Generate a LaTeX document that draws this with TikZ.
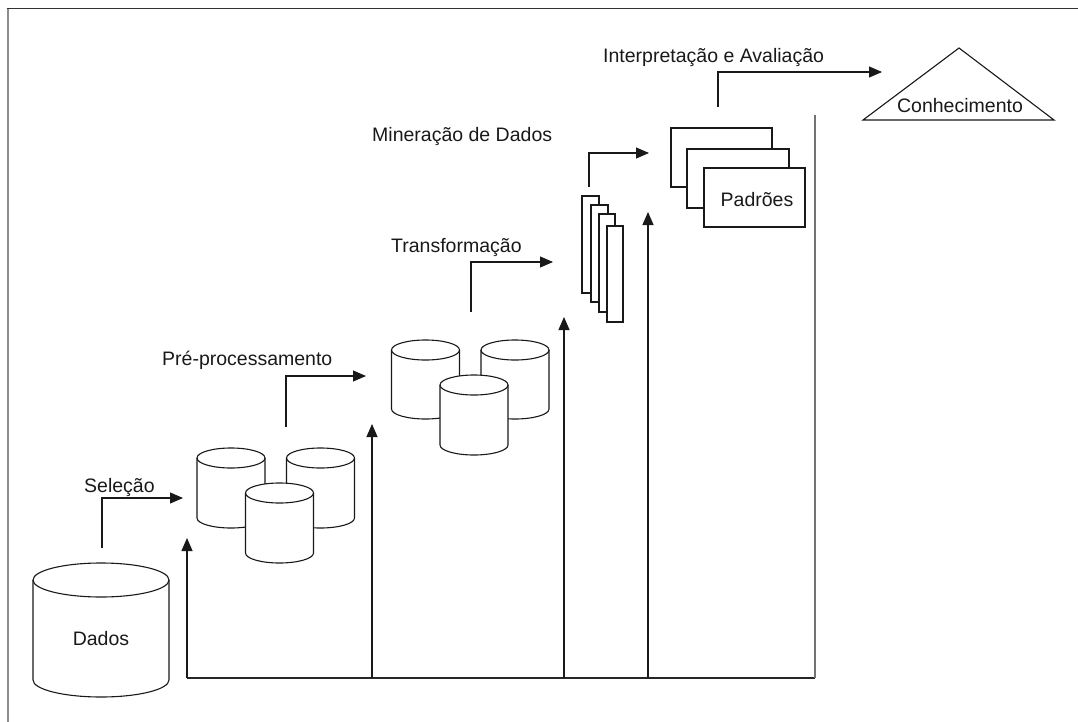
\documentclass[tikz,border=0pt]{standalone}
\usepackage{fontspec}
\setmainfont{Liberation Sans}
\usetikzlibrary{arrows.meta}

% cylinder: centre x, rim y, bottom y, x radius, y radius
\newcommand\drum[5]{%
  \filldraw[shape line,fill=white] (#1-#4,#2) -- (#1-#4,#3)
    arc[start angle=180,end angle=360,x radius=#4,y radius=#5]
    -- (#1+#4,#2)
    arc[start angle=0,end angle=180,x radius=#4,y radius=#5] -- cycle;
  \draw[shape line] (#1-#4,#2)
    arc[start angle=180,end angle=360,x radius=#4,y radius=#5];}

\begin{document}
\begin{tikzpicture}[x=1pt,y=1pt,
  shape line/.style={draw=black!90,line width=1.1pt},
  flow/.style={draw=black!90,line width=1.1pt,-{Triangle[length=13pt,width=11pt]}},
  label text/.style={font=\fontsize{19.5}{23}\selectfont,inner sep=0pt,text=black!90},
  sheet/.style={shape line,fill=white}]
\useasboundingbox (0,0) rectangle (1078,-722);

% page frame
\draw[black!80,line width=1pt] (7,-9) -- (1078,-9);
\draw[black!45,line width=1.8pt] (8,-9) -- (8,-722);

% raw data store
\drum{101}{-580}{-680}{68}{17}
\node[label text] (dados) at (101,-639) {Dados};

% selected data
\drum{231}{-458}{-518}{34}{10}
\drum{320.5}{-458}{-518}{34}{10}
\drum{279.5}{-493}{-553}{34}{10}
% pre-processed data
\drum{425.5}{-350}{-409}{34}{10}
\drum{515}{-350}{-409}{34}{10}
\drum{474}{-385}{-445}{34}{10}

% transformed data
\draw[sheet] (582,-196) rectangle (599,-293);
\draw[sheet] (591,-205) rectangle (608,-302);
\draw[sheet] (599,-214) rectangle (615,-312);
\draw[sheet] (607,-226) rectangle (623,-322);

% patterns
\draw[sheet] (671,-128) rectangle (772,-187);
\draw[sheet] (687,-149) rectangle (789,-208);
\draw[sheet] (704,-168) rectangle (805,-227);
\node[label text] (padroes) at (757,-200) {Padrões};

% knowledge
\draw[sheet] (863,-120) -- (959,-48) -- (1054,-120) -- cycle;
\node[label text,anchor=base] (conhec) at (960,-113) {Conhecimento};

% step labels
\node[label text,anchor=base west] (selecao) at (84,-492) {Seleção};
\node[label text,anchor=base west] (preproc) at (162,-365) {Pré-processamento};
\node[label text,anchor=base west] (transf) at (391,-252) {Transformação};
\node[label text,anchor=base west] (mineracao) at (372,-142) {Mineração de Dados};
\node[label text,anchor=base west] (interp) at (603,-63) {Interpretação e Avaliação};

% step arrows
\coordinate (s1a) at (102,-548);  \coordinate (s1b) at (183,-498);
\coordinate (s2a) at (286,-427);  \coordinate (s2b) at (366,-376);
\coordinate (s3a) at (471,-312);  \coordinate (s3b) at (553,-262);
\coordinate (s4a) at (589,-187);  \coordinate (s4b) at (649,-153);
\coordinate (s5a) at (718,-107);  \coordinate (s5b) at (882,-72);
\draw[flow] (s1a) |- (s1b);
\draw[flow] (s2a) |- (s2b);
\draw[flow] (s3a) |- (s3b);
\draw[flow] (s4a) |- (s4b);
\draw[flow] (s5a) |- (s5b);

% feedback loop
\coordinate (fb0) at (187,-678);
\coordinate (fb1) at (372,-678);
\coordinate (fb2) at (564,-678);
\coordinate (fb3) at (648,-678);
\coordinate (fb4) at (815,-678);
\coordinate (fbtop) at (815,-115);
\coordinate (t0) at (187,-538);
\coordinate (t1) at (372,-424);
\coordinate (t2) at (564,-317);
\coordinate (t3) at (648,-212);
\draw[black!85,line width=1.1pt] (fb0) -- (fb4);
\draw[black!55,line width=1.6pt] (fb4) -- (fbtop);
\draw[flow] (fb0) -- (t0);
\draw[flow] (fb1) -- (t1);
\draw[flow] (fb2) -- (t2);
\draw[flow] (fb3) -- (t3);
\end{tikzpicture}
\end{document}
